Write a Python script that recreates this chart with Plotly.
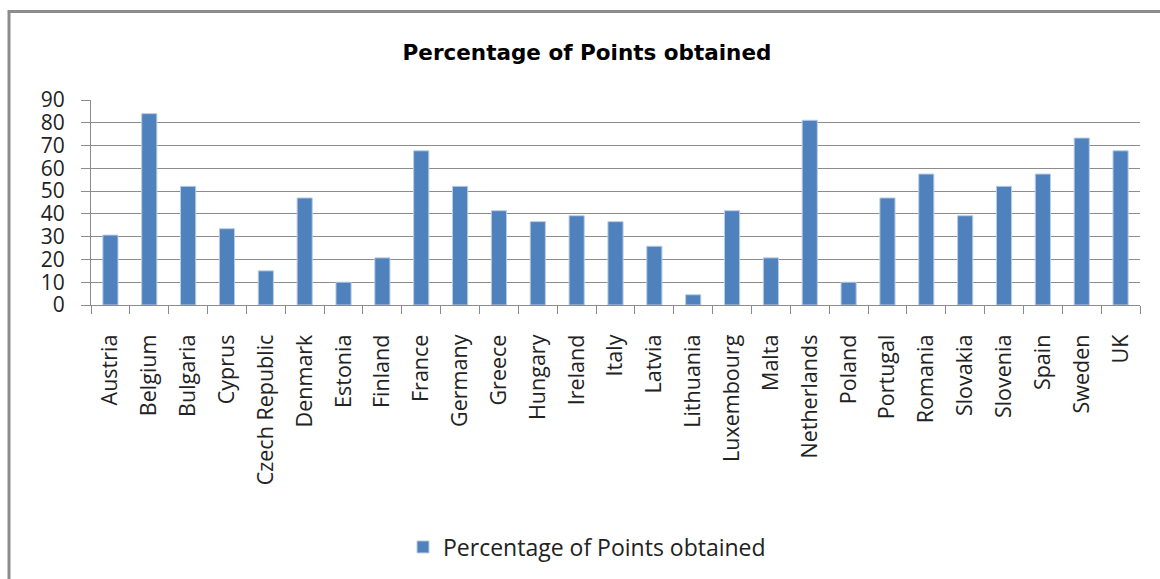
import plotly.graph_objects as go

countries = ["Austria", "Belgium", "Bulgaria", "Cyprus", "Czech Republic", "Denmark",
             "Estonia", "Finland", "France", "Germany", "Greece", "Hungary", "Ireland",
             "Italy", "Latvia", "Lithuania", "Luxembourg", "Malta", "Netherlands",
             "Poland", "Portugal", "Romania", "Slovakia", "Slovenia", "Spain", "Sweden", "UK"]
values = [30.7, 84.0, 52.1, 33.5, 15.0, 47.0, 10.0, 20.7, 67.7, 52.1, 41.4, 36.6, 39.2,
          36.6, 25.8, 4.5, 41.4, 20.7, 81.1, 10.0, 47.0, 57.5, 39.2, 52.1, 57.5, 73.3, 67.7]
y_ticks = [0, 10, 20, 30, 40, 50, 60, 70, 80, 90]
series_name = "Percentage of Points obtained"
title_text = "Percentage of Points obtained"

W, H = 1160, 579
L, R, T, B = 91, 20, 100, 273
pw, ph = W - L - R, H - T - B

fig = go.Figure()
fig.add_trace(go.Bar(
    x=countries, y=values, name=series_name,
    marker=dict(color="#4F81BD", line=dict(color="#B9CDE5", width=1)),
    showlegend=True,
))

grid = "#8C8C8C"
fig.update_layout(
    width=W, height=H,
    margin=dict(l=L, r=R, t=T, b=B, pad=0),
    paper_bgcolor="white", plot_bgcolor="white",
    bargap=0.61,
    title=dict(text=title_text, x=587 / W, xref="container", xanchor="center",
               y=1 - 52 / H, yref="container", yanchor="middle",
               font=dict(family="DejaVu Sans, sans-serif", size=21.5,
                         color="black", weight="bold")),
    font=dict(family="Open Sans, DejaVu Sans, sans-serif", size=21, color="#222222"),
    xaxis=dict(type="category", tickangle=-90, showgrid=False, showline=True,
               linecolor=grid, linewidth=1, ticks="outside", tickson="boundaries",
               ticklen=8, tickcolor=grid, tickwidth=1, ticklabelstandoff=20,
               tickfont=dict(size=21.5)),
    yaxis=dict(range=[0, 90], tickvals=y_ticks, showgrid=True, gridcolor=grid,
               gridwidth=1, showline=True, linecolor=grid, linewidth=1,
               ticks="outside", ticklen=9, tickcolor=grid, tickwidth=1,
               ticklabelstandoff=12, zeroline=False, tickfont=dict(size=21)),
    legend=dict(orientation="h", x=(403 - L) / pw, xanchor="left",
                y=(T + ph - 547) / ph, yanchor="middle",
                font=dict(size=23, color="#222222"), itemwidth=30),
    shapes=[dict(type="rect", xref="paper", yref="paper",
                 x0=(9 - L) / pw, x1=(W + 10 - L) / pw,
                 y0=(T + ph - (H + 10)) / ph, y1=(T + ph - 11) / ph,
                 line=dict(color="#8C8C8C", width=3), fillcolor="rgba(0,0,0,0)",
                 layer="below")],
)

fig.write_html("out.html")
